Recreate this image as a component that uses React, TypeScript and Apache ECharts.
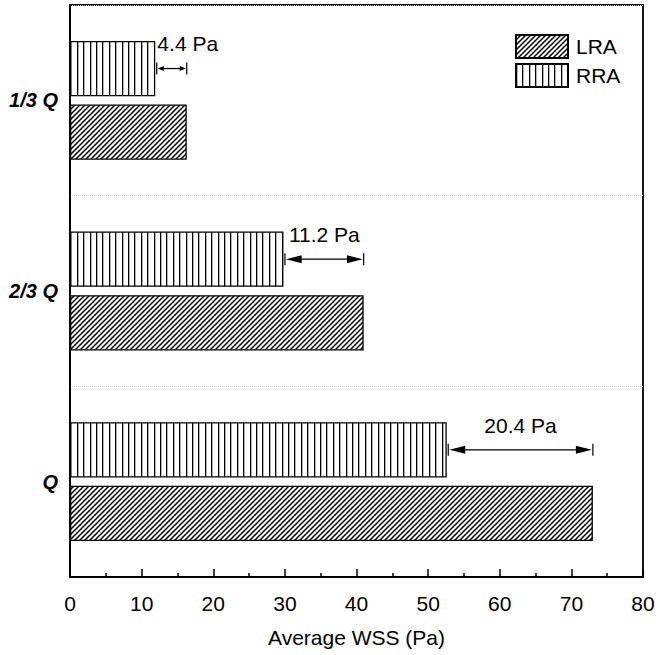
import React, { useEffect, useRef } from "react";
import * as echarts from "echarts";

const categories = ["Q", "2/3 Q", "1/3 Q"];
const lraValues = [73.0, 41.0, 16.3];
const rraValues = [52.6, 29.8, 11.9];
const diffLabels = ["20.4 Pa", "11.2 Pa", "4.4 Pa"];
const xTicks = { min: 0, max: 80, interval: 10 };

const FONT = "'Liberation Sans', Arial, sans-serif";

function makeDiagonal(): HTMLCanvasElement {
  const s = 5;
  const c = document.createElement("canvas");
  c.width = s;
  c.height = s;
  const ctx = c.getContext("2d")!;
  ctx.fillStyle = "#fff";
  ctx.fillRect(0, 0, s, s);
  ctx.strokeStyle = "#000";
  ctx.lineWidth = 1.5;
  ctx.beginPath();
  ctx.moveTo(-1, s + 1);
  ctx.lineTo(s + 1, -1);
  ctx.moveTo(-1, 1);
  ctx.lineTo(1, -1);
  ctx.moveTo(s - 1, s + 1);
  ctx.lineTo(s + 1, s - 1);
  ctx.stroke();
  return c;
}

function makeVertical(): HTMLCanvasElement {
  const w = 6.4;
  const c = document.createElement("canvas");
  c.width = 32;
  c.height = 4;
  const ctx = c.getContext("2d")!;
  ctx.fillStyle = "#fff";
  ctx.fillRect(0, 0, 32, 4);
  ctx.fillStyle = "#000";
  for (let i = 0; i < 5; i++) {
    ctx.fillRect(Math.round(i * w), 0, 1.3, 4);
  }
  return c;
}

export default function App() {
  const ref = useRef<HTMLDivElement>(null);
  useEffect(() => {
    if (!ref.current) return;
    const chart = echarts.init(ref.current, undefined, { renderer: "svg" });
    const diag = { image: makeDiagonal(), repeat: "repeat" };
    const vert = { image: makeVertical(), repeat: "repeat" };
    const BAR_W = 0.29;
    const BAR_GAP = 0.15;

    const annData = categories.map((_, i) => [rraValues[i], lraValues[i], i, diffLabels[i]]);

    chart.setOption({
      animation: false,
      textStyle: { fontFamily: FONT },
      grid: {
        left: 70,
        right: 17,
        top: 5,
        bottom: 78,
        show: true,
        borderColor: "#000",
        borderWidth: 1.8,
        backgroundColor: "transparent",
      },
      legend: {
        data: ["LRA", "RRA"],
        orient: "vertical",
        left: 510,
        top: 29,
        icon: "rect",
        itemWidth: 52,
        itemHeight: 23,
        itemGap: 4,
        textStyle: { fontSize: 21, color: "#000", fontFamily: FONT, padding: [0, 0, 0, 3] },
      },
      xAxis: {
        type: "value",
        min: xTicks.min,
        max: xTicks.max,
        interval: xTicks.interval,
        name: "Average WSS (Pa)",
        nameLocation: "middle",
        nameGap: 50,
        nameTextStyle: { fontSize: 21, color: "#000", fontFamily: FONT },
        axisLine: { show: true, lineStyle: { color: "#000", width: 1.8 } },
        axisTick: { show: true, inside: true, length: 8, lineStyle: { color: "#000", width: 1.5 } },
        minorTick: { show: true, splitNumber: 2, length: 4, lineStyle: { color: "#000", width: 1.5 } },
        axisLabel: { fontSize: 21, color: "#000", margin: 16, fontFamily: FONT },
        splitLine: { show: false },
      },
      yAxis: {
        type: "category",
        data: categories,
        axisLine: { show: true, lineStyle: { color: "#000", width: 1.8 } },
        axisTick: { show: false },
        axisLabel: {
          fontSize: 20,
          fontWeight: "bold",
          fontStyle: "italic",
          color: "#000",
          margin: 12,
          fontFamily: FONT,
        },
        splitLine: { show: true, lineStyle: { color: "#d0d0d0", type: "dotted", width: 1 } },
      },
      series: [
        {
          name: "RRA",
          type: "bar",
          data: rraValues,
          barWidth: BAR_W * 100 + "%",
          barGap: BAR_GAP * 100 + "%",
          itemStyle: { color: vert, borderColor: "#000", borderWidth: 1.3 },
        },
        {
          name: "LRA",
          type: "bar",
          data: lraValues,
          barWidth: BAR_W * 100 + "%",
          barGap: BAR_GAP * 100 + "%",
          itemStyle: { color: diag, borderColor: "#000", borderWidth: 1.3 },
        },
        {
          name: "diff",
          type: "custom",
          coordinateSystem: "cartesian2d",
          encode: { x: [0, 1], y: 2 },
          data: annData,
          z: 5,
          renderItem: (params: any, api: any) => {
            const a = api.value(0);
            const b = api.value(1);
            const ci = api.value(2);
            const label = annData[params.dataIndex][3] as string;
            const band = api.size([0, 1])[1];
            const off = (band * BAR_W * (1 + BAR_GAP)) / 2;
            const p1 = api.coord([a, ci]);
            const p2 = api.coord([b, ci]);
            const y = p1[1] - off;
            const x1 = p1[0] + 1.5;
            const x2 = p2[0];
            const len = x2 - x1;
            const ah = Math.min(16, len * 0.2);
            const hh = ah > 10 ? 4 : 2.5;
            const mid = (x1 + x2) / 2;
            const tx = Math.max(mid, x1 + 31);
            const barH = band * BAR_W;
            return {
              type: "group",
              children: [
                { type: "line", shape: { x1: x1 + ah - 1, y1: y, x2: x2 - ah + 1, y2: y }, style: { stroke: "#000", lineWidth: 1.3 } },
                { type: "polygon", shape: { points: [[x1 + 1, y], [x1 + 1 + ah, y - hh], [x1 + 1 + ah, y + hh]] }, style: { fill: "#000" } },
                { type: "polygon", shape: { points: [[x2 - 1, y], [x2 - 1 - ah, y - hh], [x2 - 1 - ah, y + hh]] }, style: { fill: "#000" } },
                { type: "line", shape: { x1: x1, y1: y - 6, x2: x1, y2: y + 6 }, style: { stroke: "#000", lineWidth: 1.2 } },
                { type: "line", shape: { x1: x2, y1: y - 6, x2: x2, y2: y + 6 }, style: { stroke: "#000", lineWidth: 1.2 } },
                {
                  type: "text",
                  x: tx,
                  y: y - barH / 2 + 3,
                  style: {
                    text: label,
                    fill: "#000",
                    fontSize: 21,
                    fontFamily: FONT,
                    align: "center",
                    verticalAlign: "middle",
                  },
                },
              ],
            };
          },
        },
      ],
    });
    return () => chart.dispose();
  }, []);
  return <div ref={ref} style={{ position: "absolute", left: 0, top: 0, width: 660, height: 655 }} />;
}
